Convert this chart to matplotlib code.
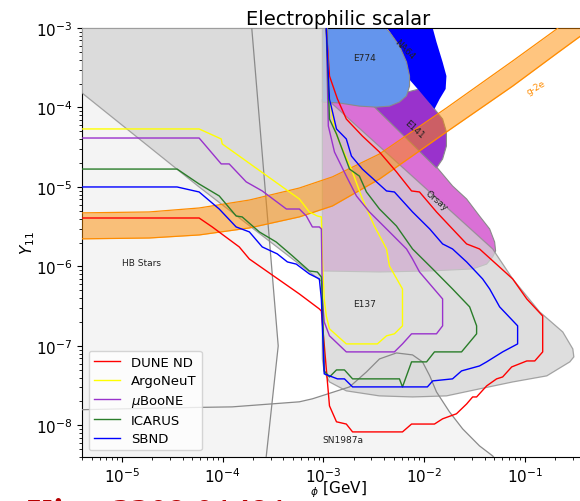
import matplotlib
matplotlib.use("Agg")
import matplotlib.pyplot as plt

# ---------------- excluded regions (m_phi [GeV], Y_11) ----------------
hb_m = [1e-6, 1.92e-4, 3.56e-4, 2.40e-4, 1e-6]
hb_y = [1e-3, 1e-3, 1e-7, 1e-9, 1e-9]

sn_m = [3.5e-6, 2.74e-5, 1.24e-4, 5.77e-4, 7.78e-4, 1.82e-3, 2.68e-3, 3.61e-3,
        5.32e-3, 7.69e-3, 9.66e-3, 1.14e-2, 1.33e-2, 1.79e-2, 2.42e-2, 3.56e-2,
        4.81e-2, 5.5e-2]
sn_y = [1.57e-8, 1.66e-8, 1.71e-8, 1.98e-8, 2.16e-8, 3.05e-8, 4.71e-8, 6.86e-8,
        8.16e-8, 7.71e-8, 6.30e-8, 4.20e-8, 2.64e-8, 1.48e-8, 9.04e-9, 5.52e-9,
        4.13e-9, 3.3e-9]

e137_m = [3.0e-6, 3.0e-6, 1.10e-3, 1.10e-3, 1.20e-3, 4.81e-2, 7.60e-2, 0.141,
          0.239, 0.301, 0.308, 0.281, 0.166, 7.60e-2, 3.56e-2, 1.67e-2, 7.69e-3,
          3.61e-3, 1.69e-3, 1.15e-3, 1.02e-3, 9.77e-4, 9.77e-4, 5.83e-5]
e137_y = [2.04e-4, 1.2e-3, 1.2e-3, 1.28e-4, 1.14e-4, 1.66e-6, 6.97e-7, 2.68e-7,
          1.50e-7, 9.16e-8, 7.28e-8, 6.30e-8, 4.20e-8, 3.52e-8, 2.88e-8, 2.35e-8,
          2.28e-8, 2.35e-8, 2.72e-8, 3.52e-8, 4.71e-8, 6.86e-8, 6.38e-7, 1.0e-5]

orsay_m = [9.77e-4, 3.08e-3, 1.33e-2, 1.92e-2, 2.65e-2, 3.56e-2, 4.49e-2, 5.03e-2,
           5.14e-2, 4.81e-2, 4.19e-2, 3.04e-2, 1.14e-2, 3.61e-3, 9.77e-4]
orsay_y = [1.28e-4, 1.14e-4, 1.79e-5, 1.03e-5, 7.06e-6, 4.31e-6, 2.96e-6, 2.03e-6,
           1.57e-6, 1.32e-6, 1.07e-6, 9.30e-7, 8.77e-7, 8.52e-7, 8.77e-7]

e141_m = [3.08e-3, 5.70e-3, 9.02e-3, 1.27e-2, 1.53e-2, 1.67e-2, 1.67e-2, 1.53e-2, 1.33e-2]
e141_y = [1.07e-4, 1.48e-4, 1.71e-4, 9.57e-5, 7.16e-5, 4.92e-5, 3.28e-5, 2.25e-5, 1.73e-5]

na64_m = [3.44e-3, 1.19e-2, 1.33e-2, 1.53e-2, 1.67e-2, 1.64e-2, 1.43e-2, 1.27e-2,
          9.02e-3, 6.40e-3, 5.08e-3, 4.04e-3]
na64_y = [1.12e-3, 1.12e-3, 6.67e-4, 3.73e-4, 2.49e-4, 1.71e-4, 1.28e-4, 9.57e-5,
          1.61e-4, 2.64e-4, 7.28e-4, 1.12e-3]

e774_m = [9.77e-4, 3.78e-3, 4.54e-3, 5.70e-3, 6.70e-3, 7.18e-3, 7.18e-3, 6.70e-3,
          5.70e-3, 4.54e-3, 3.37e-3, 2.28e-3, 1.44e-3, 9.77e-4]
e774_y = [1.12e-3, 1.12e-3, 8.91e-4, 5.94e-4, 3.73e-4, 2.49e-4, 1.86e-4, 1.40e-4,
          1.17e-4, 1.04e-4, 1.01e-4, 1.04e-4, 1.14e-4, 1.17e-4]

# electron g-2 band
g2_m = [3.5e-6, 1.86e-5, 5.83e-5, 1.84e-4, 5.77e-4, 1.23e-3, 3.61e-3, 1.67e-2,
        7.6e-2, 0.208, 0.557]
g2_hi = [4.71e-6, 4.85e-6, 5.44e-6, 6.85e-6, 9.70e-6, 1.34e-5, 2.60e-5, 9.86e-5,
         3.85e-4, 9.7e-4, 2.38e-3]
g2_lo = [2.22e-6, 2.28e-6, 2.49e-6, 3.05e-6, 4.20e-6, 5.77e-6, 1.26e-5, 4.92e-5,
         1.86e-4, 4.78e-4, 1.19e-3]

# ---------------- projected sensitivities ----------------
dune_m = [3.5e-6, 5.83e-5, 7.87e-5, 1.46e-4, 1.84e-4, 5.77e-4, 9.12e-4, 9.55e-4,
          1.15e-3, 1.35e-3, 1.69e-3, 1.95e-3, 6.11e-3, 7.52e-3, 1.27e-2, 1.53e-2,
          2.10e-2, 2.65e-2, 3.04e-2, 3.33e-2, 4.19e-2, 5.26e-2, 6.04e-2, 7.43e-2,
          0.105, 0.126, 0.151, 0.151, 0.105, 7.60e-2, 3.56e-2, 2.65e-2, 1.92e-2,
          1.33e-2, 9.02e-3, 7.52e-3, 5.32e-3, 3.61e-3, 2.44e-3, 1.69e-3, 1.38e-3,
          1.15e-3, 1.07e-3, 1.07e-3]
dune_y = [4.07e-6, 4.07e-6, 3.14e-6, 1.76e-6, 1.24e-6, 4.51e-7, 2.92e-7, 2.75e-7,
          1.76e-8, 1.11e-8, 1.04e-8, 8.28e-9, 8.28e-9, 1.04e-8, 1.04e-8, 1.21e-8,
          1.40e-8, 1.86e-8, 2.28e-8, 2.28e-8, 3.14e-8, 3.85e-8, 4.07e-8, 5.44e-8,
          6.47e-8, 6.47e-8, 8.41e-8, 2.38e-7, 3.90e-7, 6.97e-7, 1.66e-6, 1.92e-6,
          2.96e-6, 4.85e-6, 8.65e-6, 8.91e-6, 1.55e-5, 2.75e-5, 4.38e-5, 7.16e-5,
          1.28e-4, 2.49e-4, 9.7e-4, 1.3e-3]

argo_m = [3.5e-6, 5.83e-5, 9.66e-5, 9.89e-5, 5.77e-4, 7.26e-4, 8.71e-4, 9.55e-4,
          9.77e-4, 1.02e-3, 1.07e-3, 1.15e-3, 1.69e-3, 3.44e-3, 4.24e-3, 5.08e-3,
          6.11e-3, 6.11e-3, 4.54e-3, 4.24e-3, 3.21e-3, 2.44e-3, 1.90e-3, 1.44e-3,
          1.29e-3, 1.15e-3, 1.07e-3, 1.07e-3]
argo_y = [5.37e-5, 5.37e-5, 4.02e-5, 3.48e-5, 7.06e-6, 4.85e-6, 4.31e-6, 4.20e-6,
          1.24e-6, 3.90e-7, 2.38e-7, 1.64e-7, 1.06e-7, 1.06e-7, 1.34e-7, 1.42e-7,
          1.79e-7, 5.21e-7, 1.01e-6, 1.66e-6, 3.23e-6, 7.06e-6, 1.68e-5, 3.68e-5,
          5.37e-5, 1.28e-4, 9.7e-4, 1.3e-3]

uboone_m = [3.5e-6, 5.83e-5, 9.66e-5, 1.16e-4, 1.71e-4, 2.47e-4, 4.29e-4, 5.77e-4,
            6.78e-4, 7.78e-4, 9.12e-4, 9.55e-4, 9.77e-4, 1.02e-3, 1.15e-3, 1.69e-3,
            5.08e-3, 6.11e-3, 7.52e-3, 1.33e-2, 1.53e-2, 1.53e-2, 9.02e-3, 7.69e-3,
            6.70e-3, 4.54e-3, 2.87e-3, 2.13e-3, 1.69e-3, 1.29e-3, 1.12e-3, 1.07e-3,
            1.07e-3]
uboone_y = [4.13e-5, 4.13e-5, 1.95e-5, 1.95e-5, 1.16e-5, 8.91e-6, 5.28e-6, 5.28e-6,
            4.31e-6, 3.14e-6, 3.14e-6, 2.96e-6, 3.90e-7, 2.00e-7, 1.34e-7, 8.41e-8,
            8.41e-8, 1.06e-7, 1.42e-7, 1.42e-7, 1.79e-7, 3.90e-7, 8.52e-7, 1.24e-6,
            1.66e-6, 2.72e-6, 4.85e-6, 7.71e-6, 1.37e-5, 2.75e-5, 5.85e-5, 9.7e-4,
            1.3e-3]

icarus_m = [3.5e-6, 3.52e-5, 5.83e-5, 9.23e-5, 1.36e-4, 1.56e-4, 2.31e-4, 3.40e-4,
            4.92e-4, 7.26e-4, 8.71e-4, 9.55e-4, 9.77e-4, 1.02e-3, 1.15e-3, 1.35e-3,
            1.62e-3, 1.95e-3, 5.70e-3, 6.11e-3, 7.52e-3, 1.06e-2, 1.27e-2, 2.36e-2,
            3.33e-2, 3.33e-2, 2.84e-2, 1.92e-2, 1.22e-2, 7.69e-3, 5.32e-3, 3.61e-3,
            2.68e-3, 2.28e-3, 1.82e-3, 1.35e-3, 1.15e-3, 1.07e-3, 1.07e-3]
icarus_y = [1.68e-5, 1.68e-5, 1.09e-5, 7.71e-6, 4.31e-6, 4.20e-6, 2.72e-6, 2.03e-6,
            1.36e-6, 8.77e-7, 8.52e-7, 7.38e-7, 3.90e-7, 4.85e-8, 4.07e-8, 4.99e-8,
            4.99e-8, 3.85e-8, 3.85e-8, 3.05e-8, 6.30e-8, 6.30e-8, 8.41e-8, 8.41e-8,
            1.42e-7, 1.79e-7, 3.10e-7, 5.21e-7, 9.30e-7, 1.66e-6, 3.23e-6, 5.28e-6,
            8.65e-6, 1.37e-5, 1.68e-5, 4.64e-5, 7.16e-5, 9.7e-4, 1.3e-3]

sbnd_m = [3.5e-6, 3.52e-5, 5.83e-5, 9.23e-5, 1.36e-4, 1.84e-4, 2.47e-4, 3.48e-4,
          4.39e-4, 5.38e-4, 7.26e-4, 9.12e-4, 9.55e-4, 1.02e-3, 1.38e-3, 1.62e-3,
          1.95e-3, 1.08e-2, 1.22e-2, 1.92e-2, 2.36e-2, 3.56e-2, 4.19e-2, 6.04e-2,
          8.51e-2, 8.51e-2, 5.64e-2, 4.49e-2, 3.82e-2, 2.65e-2, 1.92e-2, 1.53e-2,
          1.14e-2, 7.69e-3, 5.08e-3, 4.24e-3, 2.44e-3, 1.90e-3, 1.69e-3, 1.35e-3,
          1.15e-3, 1.07e-3, 1.07e-3]
sbnd_y = [1.0e-5, 1.0e-5, 8.65e-6, 5.28e-6, 3.14e-6, 2.72e-6, 1.76e-6, 1.44e-6,
          1.14e-6, 1.07e-6, 8.05e-7, 6.97e-7, 3.90e-7, 4.45e-8, 3.85e-8, 3.85e-8,
          3.05e-8, 3.05e-8, 3.63e-8, 3.85e-8, 4.85e-8, 5.60e-8, 6.30e-8, 8.41e-8,
          1.06e-7, 1.79e-7, 3.10e-7, 5.21e-7, 6.97e-7, 1.14e-6, 1.66e-6, 1.92e-6,
          2.96e-6, 4.85e-6, 8.65e-6, 8.91e-6, 1.68e-5, 2.45e-5, 4.02e-5, 5.37e-5,
          1.28e-4, 9.7e-4, 1.3e-3]

fig = plt.figure(figsize=(5.8, 5.02), dpi=100)
ax = fig.add_axes([0.1414, 0.0876, 0.8845, 0.8546])
ax.set_xscale('log')
ax.set_yscale('log')

edge = '#8a8a8a'
# astrophysical bounds
ax.fill(hb_m, hb_y, color='#f4f4f4', lw=0, zorder=1)
ax.fill(sn_m + [5.5e-2, 3.5e-6], sn_y + [1e-9, 1e-9], color='#f4f4f4', lw=0, zorder=1)

# beam dump bounds
ax.fill(orsay_m, orsay_y, fc='orchid', ec=edge, lw=0.8, zorder=2)
ax.fill(e141_m, e141_y, fc='darkorchid', ec=edge, lw=0.8, zorder=2.1)
ax.fill(na64_m, na64_y, fc='blue', ec='none', lw=0, zorder=2.2)
ax.fill(e774_m, e774_y, fc='cornflowerblue', ec=edge, lw=0.8, zorder=2.3)
ax.fill(e137_m, e137_y, fc='lightgray', ec=edge, lw=0.9, alpha=0.75, zorder=3)

ax.plot([1.92e-4, 3.56e-4, 2.40e-4], [1.2e-3, 1e-7, 1e-9], color=edge, lw=0.9, zorder=3.5)
ax.plot(sn_m, sn_y, color=edge, lw=0.9, zorder=3.5)

# g-2 of the electron
ax.fill_between(g2_m, g2_lo, g2_hi, color='darkorange', alpha=0.5, lw=0, zorder=4)
ax.plot(g2_m, g2_hi, color='darkorange', lw=0.9, zorder=4)
ax.plot(g2_m, g2_lo, color='darkorange', lw=0.9, zorder=4)

ax.plot(dune_m, dune_y, color='red', lw=1.0, label='DUNE ND', zorder=5)
ax.plot(argo_m, argo_y, color='yellow', lw=1.0, label='ArgoNeuT', zorder=5)
ax.plot(uboone_m, uboone_y, color='darkorchid', lw=1.0, label=r'$\mu$BooNE', zorder=5)
ax.plot(icarus_m, icarus_y, color='#2a7d2a', lw=1.0, label='ICARUS', zorder=5)
ax.plot(sbnd_m, sbnd_y, color='blue', lw=1.0, label='SBND', zorder=5)

lab = dict(fontsize=6.5, color='#222222', ha='center', va='center', zorder=6)
ax.text(2.56e-3, 4.31e-4, 'E774', **lab)
ax.text(6.4e-3, 5.44e-4, 'NA64', rotation=-45, **lab)
ax.text(8.04e-3, 5.37e-5, 'E141', rotation=-42, **lab)
ax.text(1.33e-2, 6.86e-6, 'Orsay', rotation=-40, **lab)
ax.text(2.56e-3, 3.37e-7, 'E137', **lab)
ax.text(1.55e-5, 1.11e-6, 'HB Stars', **lab)
ax.text(1.55e-3, 6.58e-9, 'SN1987a', **lab)
ax.text(0.129, 1.81e-4, 'g-2e', fontsize=6.5, color='darkorange', rotation=30,
        ha='center', va='center', zorder=6)

ax.set_xlim(4e-6, 0.5)
ax.set_ylim(4e-9, 1e-3)
ax.tick_params(labelsize=11)
ax.set_title('Electrophilic scalar', fontsize=14, pad=3)
ax.set_ylabel(r'$Y_{11}$', fontsize=11, labelpad=-1)
ax.set_xlabel(r'${}_\phi$ [GeV]', fontsize=11, labelpad=-5)
ax.legend(loc='lower left', fontsize=9.5, labelspacing=0.4)

fig.text(-0.013, -0.045, 'arXiv:  2209.01491', color='#b50000', fontsize=26.5,
         fontweight='bold', family='Liberation Serif', va='baseline')

fig.savefig('out.png', dpi=100)
